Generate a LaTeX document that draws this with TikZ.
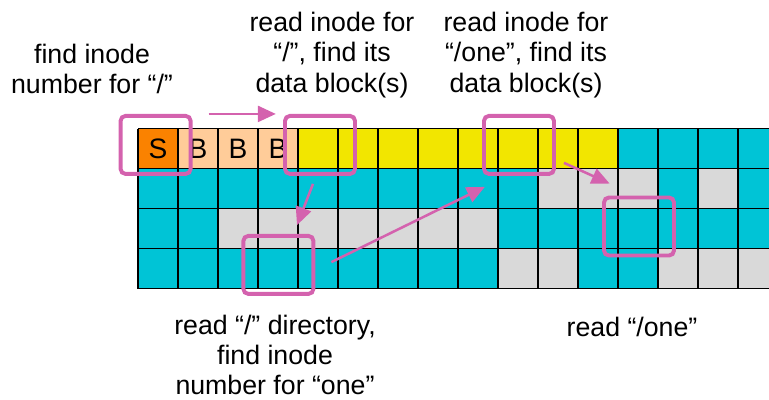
\documentclass[tikz,border=0pt]{standalone}
\usepackage{fontspec}
\setmainfont{Liberation Sans}
\usetikzlibrary{arrows.meta,positioning,calc}
\definecolor{sborange}{RGB}{250,130,0}
\definecolor{bmpeach}{RGB}{255,204,153}
\definecolor{inodeyellow}{RGB}{242,230,0}
\definecolor{datacyan}{RGB}{0,196,214}
\definecolor{freegray}{RGB}{217,217,217}
\definecolor{hipink}{RGB}{212,98,174}

\begin{document}
\begin{tikzpicture}[
  gridline/.style={black,line width=1.2pt},
  hilite/.style={rectangle,draw=hipink,line width=2.8pt,rounded corners=3.5pt,
                 minimum width=1.75cm,minimum height=1.45cm,inner sep=0pt},
  flow/.style={-{Triangle[length=0.45cm,width=0.4cm]},hipink,line width=1.8pt},
  lbl/.style={align=center,font=\fontsize{19}{21.6}\selectfont},
  blocklbl/.style={font=\fontsize{20}{24}\selectfont},
]
\useasboundingbox (-3.45,3.2125) rectangle (15.775,-6.7625);
\clip (-3.45,3.2125) rectangle (15.775,-6.7625);

% top row: superblock, bitmaps, inode table, data
\fill[sborange]    (0,0)  rectangle (1,-1);
\fill[bmpeach]     (1,0)  rectangle (4,-1);
\fill[inodeyellow] (4,0)  rectangle (12,-1);
\fill[datacyan]    (12,0) rectangle (16,-1);
% data region, free blocks in gray
\fill[datacyan] (0,-1) rectangle (16,-4);
\fill[freegray] (10,-1) rectangle (13,-2);
\fill[freegray] (14,-1) rectangle (15,-2);
\fill[freegray] (2,-2)  rectangle (9,-3);
\fill[freegray] (9,-3)  rectangle (11,-4);
\fill[freegray] (13,-3) rectangle (16,-4);
\draw[gridline] (0,0) grid (16,-4);

\node[blocklbl] (s) at (0.5,-0.5) {S};
\foreach \i in {1,2,3}
  \node[blocklbl] (b\i) at (\i+0.5,-0.5) {B};

% highlighted blocks
\node[hilite] (sb)      at (0.44,-0.41)   {};
\node[hilite] (rootino) at (4.55,-0.41)   {};
\node[hilite] (rootdir) at (3.51,-3.41)   {};
\node[hilite] (oneino)  at (9.525,-0.41)  {};
\node[hilite] (onedata) at (12.525,-2.45) {};

\draw[flow,shorten <=0.4cm,shorten >=0.18cm] (sb.north east) -- (rootino.north west);
\draw[flow] ([shift={(-0.175,-0.2)}]rootino.south) -- ([shift={(0.465,0.22)}]rootdir.north);
\draw[flow] ([shift={(0.4,0.07)}]rootdir.east) -- ([shift={(0.07,-0.275)}]oneino.south west);
\draw[flow] ([shift={(0.2,0.325)}]oneino.south east) -- ([shift={(0.19,0.3)}]onedata.north west);

% step labels
\node[lbl] (l1) at (-1.15,1.49)  {find inode\\number for “/”};
\node[lbl] (l2) at (4.85,1.84)   {read inode for\\“/”, find its\\data block(s)};
\node[lbl] (l3) at (9.7,1.84)    {read inode for\\“/one”, find its\\data block(s)};
\node[lbl] (l4) at (3.425,-5.66) {read “/” directory,\\find inode\\number for “one”};
\node[lbl] (l5) at (12.35,-4.96) {read “/one”};
\end{tikzpicture}
\end{document}
